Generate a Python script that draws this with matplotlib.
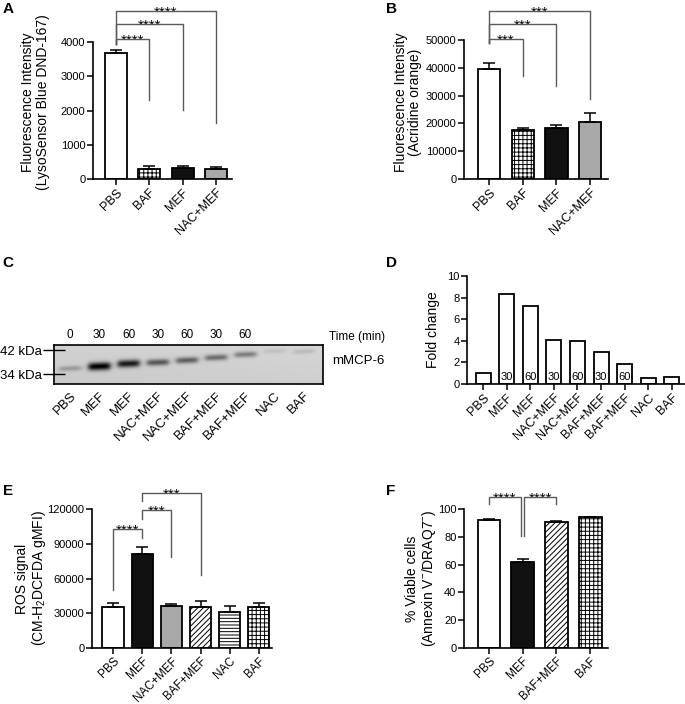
import numpy as np
import matplotlib
matplotlib.use('Agg')
import matplotlib.pyplot as plt

plt.rcParams['font.family'] = ['Liberation Sans', 'DejaVu Sans']
plt.rcParams['mathtext.default'] = 'regular'
plt.rcParams['hatch.linewidth'] = 0.7

# ---- data ----
a_labels = ['PBS', 'BAF', 'MEF', 'NAC+MEF']
a_vals = [3670, 282, 330, 292]
a_errs = [96, 98, 50, 68]

b_labels = ['PBS', 'BAF', 'MEF', 'NAC+MEF']
b_vals = [39460, 17630, 18230, 20620]
b_errs = [2140, 830, 1190, 3240]

c_lanes = ['PBS', 'MEF', 'MEF', 'NAC+MEF', 'NAC+MEF', 'BAF+MEF', 'BAF+MEF', 'NAC', 'BAF']
c_times = ['0', '30', '60', '30', '60', '30', '60', '', '']
c_band_kda = [35.7, 36.4, 37.3, 37.7, 38.4, 39.3, 40.3, 41.4, 41.3]
c_band_dark = [0.2, 0.82, 0.72, 0.48, 0.45, 0.40, 0.34, 0.08, 0.10]

d_labels = c_lanes
d_vals = [0.99, 8.33, 7.25, 4.1, 3.95, 2.93, 1.85, 0.56, 0.65]
d_times = ['', '30', '60', '30', '60', '30', '60', '', '']

e_labels = ['PBS', 'MEF', 'NAC+MEF', 'BAF+MEF', 'NAC', 'BAF']
e_vals = [35100, 80900, 36300, 35100, 30800, 35100]
e_errs = [4000, 6600, 1400, 5800, 5500, 4000]

f_labels = ['PBS', 'MEF', 'BAF+MEF', 'BAF']
f_vals = [92.1, 61.6, 90.4, 94.0]
f_errs = [0.9, 2.2, 0.7, 0.5]

GRAY = '#a8a8a8'
BLACK = '#111111'
BRK = '#5a5a5a'


def style_axis(ax):
    for s in ['top', 'right']:
        ax.spines[s].set_visible(False)
    for s in ['left', 'bottom']:
        ax.spines[s].set_linewidth(1.2)
    ax.tick_params(axis='both', direction='out', length=4, width=1.1)
    ax.tick_params(axis='y', labelsize=8, pad=1.5)
    ax.tick_params(axis='x', labelsize=9, pad=1.5)


def bar_panel(ax, labels, vals, errs, colors, hatches, width, xlim, ylim, yticks):
    x = np.arange(len(labels))
    bars = ax.bar(x, vals, width, color=colors, edgecolor='black', linewidth=1.3, zorder=2)
    for b, h in zip(bars, hatches):
        if h:
            b.set_hatch(h)
    if errs is not None:
        ax.errorbar(x, vals, yerr=[np.zeros(len(errs)), errs], fmt='none', ecolor='black',
                    elinewidth=1.1, capsize=4, capthick=1.1, zorder=3)
    ax.set_xlim(*xlim)
    ax.set_ylim(*ylim)
    ax.set_yticks(yticks)
    ax.set_xticks(x)
    ax.set_xticklabels(labels, rotation=45, ha='right', rotation_mode='anchor')
    style_axis(ax)


def bracket(ax, x1, x2, y, h1, h2, stars):
    ax.plot([x1, x1, x2, x2], [h1, y, y, h2], color=BRK, lw=1.0, clip_on=False, zorder=4)
    ax.annotate(stars, ((x1 + x2) / 2, y), xytext=(0, -4.4), textcoords='offset points',
                ha='center', va='baseline', fontsize=11, annotation_clip=False)


fig = plt.figure(figsize=(6.85, 7.04), dpi=100)

# ---- A ----
axA = fig.add_axes([0.1358, 0.7457, 0.2029, 0.1946])
bar_panel(axA, a_labels, a_vals, a_errs, ['white', 'white', BLACK, GRAY],
          [None, '++++', None, None], 0.66, (-0.69, 3.48), (0, 4000), range(0, 4001, 1000))
axA.set_ylabel('Fluorescence Intensity\n(LysoSensor Blue DND-167)', fontsize=10, linespacing=1.05)
axA.yaxis.set_label_coords(-0.31, 0.56)
bracket(axA, 0, 1, 4088, 3950, 2306, '****')
bracket(axA, 0, 2, 4525, 3950, 2015, '****')
bracket(axA, 0, 3, 4905, 3950, 1635, '****')

# ---- B ----
axB = fig.add_axes([0.6774, 0.7457, 0.2102, 0.1974])
bar_panel(axB, b_labels, b_vals, b_errs, ['white', 'white', BLACK, GRAY],
          [None, '++++', None, None], 0.66, (-0.74, 3.53), (0, 50000), range(0, 50001, 10000))
axB.set_ylabel('Fluorescence Intensity\n(Acridine orange)', fontsize=10, linespacing=1.05)
axB.yaxis.set_label_coords(-0.29, 0.55)
bracket(axB, 0, 1, 50360, 48900, 37050, '***')
bracket(axB, 0, 2, 55750, 48900, 33450, '***')
bracket(axB, 0, 3, 60430, 48900, 28780, '***')

# ---- C : blot ----
axC = fig.add_axes([0.0788, 0.4545, 0.3927, 0.0554])
xmin, xmax, ymin, ymax = -0.55, 8.65, 30.67, 43.67
xs = np.linspace(xmin, xmax, 600)
ys = np.linspace(ymin, ymax, 90)
X, Y = np.meshgrid(xs, ys)
img = 0.79 + 0.03 * (Y - ymin) / (ymax - ymin) + 0.02 * (X - xmin) / (xmax - xmin)
for i, (pos, dark) in enumerate(zip(c_band_kda, c_band_dark)):
    prof_x = 1 / (1 + np.exp(-(0.37 - np.abs(X - i)) / 0.05))
    sig = 0.5 + 0.5 * dark
    centre = pos + 0.35 * (X - i)
    img = img - dark * prof_x * np.exp(-0.5 * ((Y - centre) / sig) ** 2)
img = np.clip(img, 0, 1)
axC.imshow(img, extent=[xmin, xmax, ymin, ymax], origin='lower', aspect='auto',
           cmap='gray', vmin=0, vmax=1, interpolation='bilinear')
axC.set_xlim(xmin, xmax)
axC.set_ylim(ymin, ymax)
for s in axC.spines.values():
    s.set_linewidth(1.2)
axC.set_yticks([34, 42])
axC.set_yticklabels(['34 kDa', '42 kDa'])
axC.tick_params(axis='y', direction='inout', length=16, width=1.0, pad=1, labelsize=9.5)
axC.set_xticks(np.arange(len(c_lanes)))
axC.set_xticklabels(c_lanes, rotation=45, ha='right', rotation_mode='anchor', fontsize=9.5)
axC.tick_params(axis='x', length=0, pad=4)
for i, t in enumerate(c_times):
    axC.text(i, ymax + 1.3, t, ha='center', va='bottom', fontsize=8.5)
axC.text(8.85, ymax + 0.7, 'Time (min)', ha='left', va='bottom', fontsize=8.5)
axC.text(8.95, 38.3, 'mMCP-6', ha='left', va='center', fontsize=9.5)

# ---- D ----
axD = fig.add_axes([0.6818, 0.4545, 0.318, 0.1534])
bar_panel(axD, d_labels, d_vals, None, ['white'] * len(d_vals), [None] * len(d_vals),
          0.63, (-0.68, 8.55), (0, 10), range(0, 11, 2))
axD.set_ylabel('Fold change', fontsize=10)
axD.yaxis.set_label_coords(-0.125, 0.5)
for i, t in enumerate(d_times):
    if t:
        axD.text(i, 0.15, t, ha='center', va='bottom', fontsize=8)

# ---- E ----
axE = fig.add_axes([0.1343, 0.0795, 0.2628, 0.1974])
bar_panel(axE, e_labels, e_vals, e_errs, ['white', BLACK, GRAY, 'white', 'white', 'white'],
          [None, None, None, '//////', '-----', '++++'], 0.72, (-0.72, 5.45), (0, 120000),
          range(0, 120001, 30000))
axE.tick_params(axis='x', labelsize=8.5, pad=1)
axE.set_ylabel('ROS signal\n(CM-H$_2$DCFDA gMFI)', fontsize=10, linespacing=1.05)
axE.yaxis.set_label_coords(-0.245, 0.5)
bracket(axE, 0, 1, 102700, 50000, 95000, '****')
bracket(axE, 1, 2, 119100, 111400, 78600, '***')
bracket(axE, 1, 3, 133800, 126900, 63000, '***')

# ---- F ----
axF = fig.add_axes([0.6774, 0.0795, 0.2102, 0.1974])
bar_panel(axF, f_labels, f_vals, f_errs, ['white', BLACK, 'white', 'white'],
          [None, None, '//////', '++++'], 0.68, (-0.74, 3.53), (0, 100), range(0, 101, 20))
axF.tick_params(axis='x', labelsize=8.5, pad=1)
axF.set_ylabel('% Viable cells\n(Annexin V$^{-}$/DRAQ7$^{-}$)', fontsize=10, linespacing=1.05)
axF.yaxis.set_label_coords(-0.18, 0.5)
bracket(axF, 0, 0.95, 108.6, 103.6, 80.6, '****')
bracket(axF, 1.05, 2, 108.6, 80.6, 103.6, '****')

# panel letters
for lab, x, y in [('A', 0.004, 0.997), ('B', 0.563, 0.997), ('C', 0.004, 0.636),
                  ('D', 0.563, 0.636), ('E', 0.004, 0.312), ('F', 0.563, 0.312)]:
    fig.text(x, y, lab, fontsize=11, fontweight='bold', va='top', ha='left')

fig.savefig('out.png', dpi=100)
